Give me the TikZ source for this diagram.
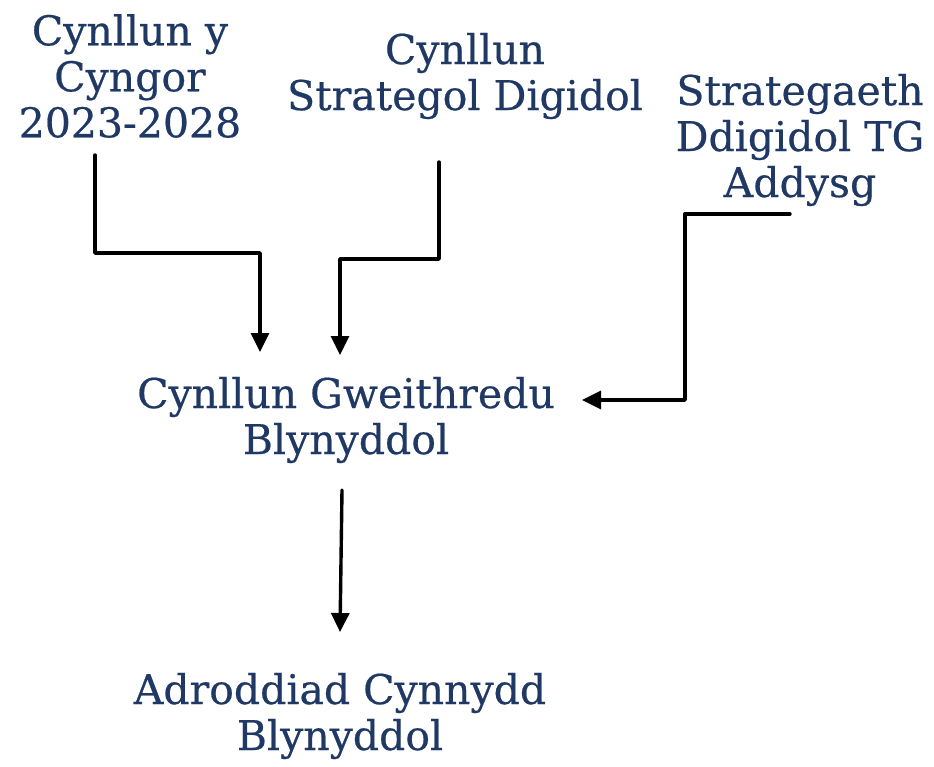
\documentclass[tikz,border=0pt]{standalone}
\usepackage{fontspec}
\setmainfont{DejaVu Serif}[FakeBold=0.5]
\usetikzlibrary{arrows.meta}
\definecolor{navy}{HTML}{1F3864}
\begin{document}
\begin{tikzpicture}[x=1pt,y=-1pt,line join=round,line cap=round,>={Triangle[length=19pt,width=18pt]},
	box/.style={text=navy,align=center,inner sep=0pt,font=\fontsize{41}{46}\selectfont}]
		\useasboundingbox (0,0) rectangle (934,766);
		\node[box] (cyngor) at (130,76) {Cynllun y\\Cyngor\\2023-2028};
		\node[box] (digidol) at (465,76) {Cynllun\\Strategol Digidol};
		\node[box] (addysg) at (800,140) {Strategaeth\\Ddigidol TG\\Addysg};
		\node[box] (gweith) at (346,420) {Cynllun Gweithredu\\Blynyddol};
		\node[box] (adrodd) at (340,716) {Adroddiad Cynnydd\\Blynyddol};
		\begin{scope}[line width=3.4pt]
		\draw[->] ([xshift=-35pt,yshift=-79pt]cyngor.center) |- (260,253) -- ([xshift=-86pt,yshift=68pt]gweith.center);
		\draw[->] ([xshift=-26pt,yshift=-86pt]digidol.center) |- (340,259) -- ([xshift=-6pt,yshift=65pt]gweith.center);
		\draw[->] ([xshift=-10pt,yshift=-74pt]addysg.center) -| (685,400) -- ([xshift=236pt,yshift=20pt]gweith.center);
		\draw[->] ([xshift=-4pt,yshift=-70pt]gweith.center) -- ([yshift=84pt]adrodd.center);
		\end{scope}
\end{tikzpicture}
\end{document}
